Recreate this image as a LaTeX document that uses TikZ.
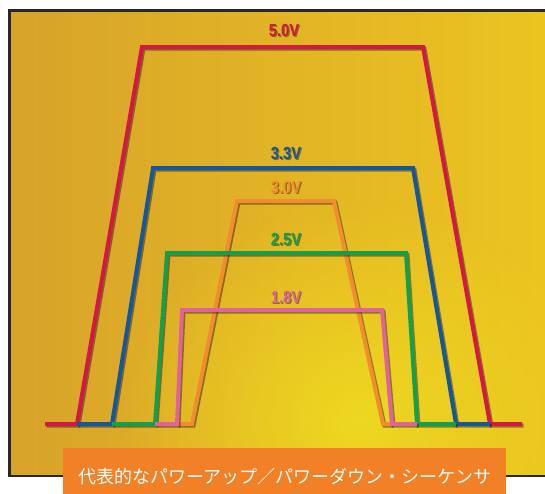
\documentclass[tikz,border=0pt]{standalone}
\usepackage{fontspec}
\setmainfont{Liberation Sans}
\newfontfamily\cjk{Noto Sans CJK JP}
\usetikzlibrary{fadings,calc}
\definecolor{bgL}{RGB}{216,163,42}
\definecolor{bgR}{RGB}{236,198,32}
\definecolor{bgHi}{RGB}{238,216,32}
\definecolor{frameC}{RGB}{40,40,40}
\definecolor{cRed}{RGB}{212,22,72}
\definecolor{cBlue}{RGB}{20,86,160}
\definecolor{cOrange}{RGB}{242,140,48}
\definecolor{cGreen}{RGB}{16,160,82}
\definecolor{cPink}{RGB}{226,98,160}
\definecolor{bannerC}{RGB}{242,128,38}
\tikzfading[name=myglow, inner color=transparent!0, outer color=transparent!100]
\tikzset{
  wave/.style={line width=4pt, line join=miter, line cap=butt},
  waveshadow/.style={line width=4pt, black, opacity=0.4, line join=miter, shift={(1.5,1.5)}},
  vlabel/.style={font=\bfseries\fontsize{17.5}{17.5}\selectfont, inner sep=0pt},
}
\newcommand\mywave[2]{\draw[waveshadow] #2; \draw[wave,#1] #2;}
\newcommand\mylabel[4]{%
  \node[vlabel, black, opacity=0.4] at ($(#2)+(1.3,1.3)$) {\scalebox{0.84}[1]{#4}};
  \node[vlabel, #1] (#3) at (#2) {\scalebox{0.84}[1]{#4}};}
\begin{document}
\begin{tikzpicture}[x=1pt,y=-1pt]
\useasboundingbox (0,0) rectangle (545,493);
\begin{scope}
  \clip (10,11) rectangle (570,476);
  \shade[left color=bgL, right color=bgR] (10,11) rectangle (570,476);
  \fill[bgHi, path fading=myglow] (120,200) rectangle (600,640);
\end{scope}
\draw[frameC, line width=2.5pt] (9.5,10.5) rectangle (575,476);
% waveforms
\mywave{cRed}{(45,424) -- (77,424) -- (142,47) -- (423,47) -- (490,424) -- (522,424)}
\mywave{cBlue}{(77,424) -- (112,424) -- (153,168) -- (413,168) -- (456,424) -- (490,424)}
\mywave{cOrange}{(177,424) -- (192,424) -- (237,201) -- (334,201) -- (383,424) -- (392,424)}
\mywave{cGreen}{(112,424) -- (155,424) -- (167,253) -- (406,253) -- (417,424) -- (456,424)}
\mywave{cPink}{(155,424) -- (177,424) -- (182,310) -- (382,310) -- (392,424) -- (417,424)}
% labels
\mylabel{cRed}{284,30}{l50}{5.0V}
\mylabel{cBlue}{286,153}{l33}{3.3V}
\mylabel{cOrange}{286,187}{l30}{3.0V}
\mylabel{cGreen}{286,239}{l25}{2.5V}
\mylabel{cPink}{286,297}{l18}{1.8V}
% banner
\node[fill=bannerC, minimum width=443pt, minimum height=50pt, inner sep=0pt, anchor=north west] (banner) at (63,448) {};
\node[text=white, inner sep=0pt, font=\cjk\fontsize{18}{18}\selectfont] (title) at (285,477) {代表的なパワーアップ／パワーダウン・シーケンサ};
\end{tikzpicture}
\end{document}
